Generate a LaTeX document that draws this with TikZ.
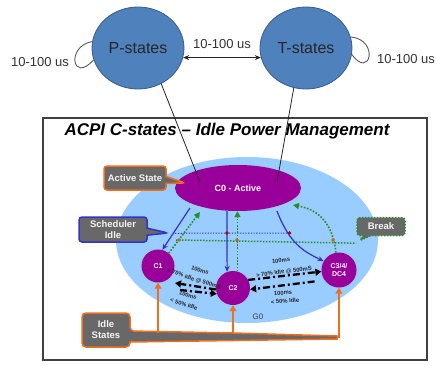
\documentclass[tikz,border=0pt]{standalone}
\usepackage{fontspec}
\setmainfont{Liberation Sans}
\usetikzlibrary{shapes.geometric,shapes.callouts,arrows.meta}
\definecolor{pblue}{RGB}{79,129,189}
\definecolor{pborder}{RGB}{56,93,138}
\definecolor{lblue}{RGB}{153,204,255}
\definecolor{purp}{RGB}{153,0,153}
\definecolor{cgray}{RGB}{104,104,104}
\definecolor{orng}{RGB}{240,110,30}
\definecolor{bluearr}{RGB}{51,51,204}
\definecolor{grn}{RGB}{40,140,40}
\begin{document}
\begin{tikzpicture}[x=1pt,y=-1pt,
  lbl/.style={font=\fontsize{13}{15}\selectfont, text=black!80},
  pstate/.style={ellipse, draw=pborder, line width=0.8pt, fill=pblue, minimum width=92pt, minimum height=82pt, inner sep=0pt, font=\fontsize{16}{18}\selectfont, text=black!85},
  cstate/.style={circle, fill=purp, minimum size=33pt, inner sep=0pt, text=white, font=\fontsize{7}{8}\bfseries\selectfont, align=center},
  callbox/.style={rectangle callout, fill=cgray, rounded corners=3pt, line width=1.5pt, text=white!92!gray, font=\fontsize{9.5}{11}\bfseries\selectfont, align=center, inner sep=1pt},
  barr/.style={draw=bluearr, line width=1.2pt, -{Stealth[length=6pt,width=5pt]}},
  garr/.style={draw=grn, line width=1.6pt, dash pattern=on 1.6pt off 1.6pt, -{Triangle[length=6pt,width=6pt]}},
  dd/.style={line width=2.3pt, dash pattern=on 7pt off 3pt on 2pt off 3pt, -{Triangle[length=6pt,width=7pt]}},
  oarr/.style={draw=orng, line width=2.2pt, -{Triangle[length=6pt,width=7pt]}},
  small/.style={font=\fontsize{5.8}{6.5}\bfseries\selectfont, inner sep=0pt, text=black!85},
  bdot/.style={fill=red!70!black},
  odot/.style={fill=orng!85!black},
]
\useasboundingbox (0,0) rectangle (437,367);

% top states
\node[pstate] (P) at (138,48) {P-states};
\node[pstate] (T) at (306,48) {T-states};
\draw[black!85, line width=0.9pt, {Stealth[length=6pt,width=5pt]}-{Stealth[length=6pt,width=5pt]}] (P.-12) -- (T.192) node[midway, above=5pt, lbl] (mid) {10-100 us};
\draw[black!65, line width=0.9pt] (P.172) .. controls (66,46) and (72,84) .. (P.195);
\node[lbl] (lp) at (40,62) {10-100 us};
\draw[black!65, line width=0.9pt] (T.14) .. controls (380,40) and (370,80) .. (T.-8);
\node[lbl] (lt) at (406,59) {10-100 us};

% frame
\draw[line width=1.5pt, black!75, fill=white] (43,118) rectangle (427,360);
\node[font=\fontsize{17}{20}\bfseries\itshape\selectfont] (title) at (227,131) {ACPI C-states – Idle Power Management};

% G0 and C0
\node[ellipse, fill=lblue, minimum width=262pt, minimum height=166pt] (G0) at (247,240) {};
\node[font=\fontsize{8}{9}\selectfont, text=black!75] (g0l) at (258,317) {G0};
\node[ellipse, fill=purp, minimum width=126pt, minimum height=46pt, text=white, font=\fontsize{9}{10}\bfseries\selectfont] (C0) at (238,188) {C0 - Active};

% lines from top states
\coordinate (pe) at (200,182);
\coordinate (te) at (277,182);
\draw[black!85, line width=0.8pt] (P.-57) -- (pe);
\draw[black!85, line width=0.8pt] (T.-107) -- (te);

% C states
\node[cstate] (C1) at (158,266) {C1};
\node[cstate, minimum size=34pt] (C2) at (233,288) {C2};
\node[cstate, minimum size=35pt] (C3) at (339,270) {C3/4/\\DC4};

% callouts (boxes)
\node[callbox, draw=orng, minimum width=62pt, minimum height=24pt, callout absolute pointer={(185,183)}] (act) at (135,178) {Active State};
\node[callbox, draw=bluearr, minimum width=68pt, minimum height=25pt, callout absolute pointer={(168,233)}] (sch) at (113,229.5) {Scheduler\\Idle};
\node[callbox, draw=grn, dash pattern=on 1.5pt off 1.5pt, minimum width=48pt, minimum height=18pt, callout absolute pointer={(359,241)}] (brk) at (381,226.5) {Break};

% dotted guide lines
\coordinate (bd) at (290,233);
\coordinate (gd) at (176,240);
\draw[bluearr, line width=1pt, dash pattern=on 1.2pt off 1.5pt] (sch.pointer) -- (bd);
\draw[grn, line width=1.5pt, dash pattern=on 1.5pt off 1.5pt] (gd) -- (brk.pointer);

% blue arrows
\coordinate (b1) at (190,208);
\coordinate (b2) at (227,211);
\coordinate (b3) at (277,211);
\draw[barr] (b1) -- (C1.75);
\draw[barr] (b2) -- (C2.110);
\draw[barr] (b3) .. controls (290,245) and (305,252) .. (C3.150);

% green arrows
\coordinate (g1) at (200,212);
\coordinate (g3) at (293,205);
\draw[garr] (C1.50) -- (g1);
\draw[garr] (C2.75) -- (C2.75 |- C0.south);
\draw[garr] (C3.100) .. controls (333,225) and (320,210) .. (g3);

% dots
\fill[bdot] (227,233) circle (1.8pt);
\fill[bdot] (289.5,233) circle (1.8pt);
\fill[odot] (179,240) circle (1.8pt);
\fill[odot] (237,240) circle (1.8pt);
\fill[odot] (333,240) circle (1.8pt);

% transition arrows
\coordinate (hA) at (175,283);
\coordinate (sB) at (180,290);
\draw[dd] (C2.185) -- (hA);
\draw[dd] (sB) -- (C2.200);
\draw[dd] (C2.28) -- (C3.185);
\draw[dd, shorten <=10pt] (C3.215) -- (C2.-5);

\node[small, rotate=-18] (l1a) at (200,270) {100ms};
\node[small, rotate=-18] (l1b) at (194,279.5) {> 70\% Idle @ 500mS};
\node[small, rotate=-18] (l2a) at (188,295) {100ms};
\node[small, rotate=-18] (l2b) at (184,304) {< 50\% Idle};
\node[small, rotate=7] (l3a) at (281,260.5) {100ms};
\node[small, rotate=7] (l3b) at (284,272) {> 70\% Idle @ 500mS};
\node[small, rotate=5] (l4a) at (283,293) {100ms};
\node[small, rotate=5] (l4b) at (285,301) {< 50\% Idle};

% idle states callout
\draw[fill=cgray, draw=orng, line width=1.5pt, rounded corners=4pt] (82,313) -- (130,313) -- (130,331) [sharp corners] -- (233,333) -- (337,336) -- (337,339) -- (130,342) [rounded corners=4pt] -- (130,347) -- (82,347) -- cycle;
\node[font=\fontsize{9.5}{11}\bfseries\selectfont, text=white!92!gray, align=center] (idle) at (106,330) {Idle\\States};
\coordinate (ob) at (0,333);
\coordinate (ob2) at (0,337.5);
\draw[oarr] (C1.south |- ob) -- (C1.south);
\draw[oarr] (C2.south |- ob) -- (C2.south);
\draw[oarr] (C3.south |- ob2) -- (C3.south);
\end{tikzpicture}
\end{document}
